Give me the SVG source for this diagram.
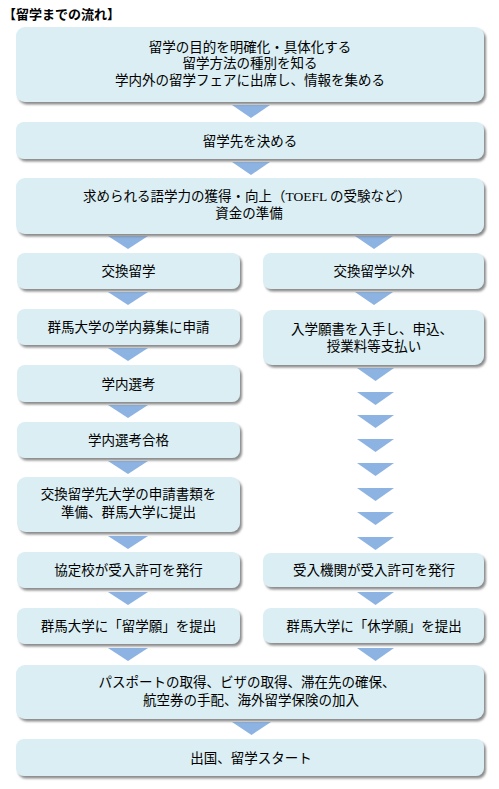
<svg xmlns="http://www.w3.org/2000/svg" width="499" height="789" viewBox="0 0 499 789">
<defs>
<filter id="sh" x="-5%" y="-20%" width="110%" height="150%">
<feDropShadow dx="2" dy="2.5" stdDeviation="1" flood-color="#7f7f7f" flood-opacity="0.9"/>
</filter>
<style>
.box{fill:#DAEEF3;filter:url(#sh);}
.t{font-family:"Noto Sans CJK JP","Noto Sans",sans-serif;font-size:13.5px;fill:#000;text-anchor:middle;}
.ser{font-family:"Liberation Serif",serif;}
.title{font-family:"Noto Sans CJK JP",sans-serif;font-size:13px;font-weight:bold;fill:#000;}
.arr{fill:#8DB3E2;}
</style>
</defs>
<rect width="499" height="789" fill="#fff"/>
<text class="title" x="3" y="19">【留学までの流れ】</text>

<g id="connectors">
<polygon class="arr" points="232,105 270,105 251,118"/>
<polygon class="arr" points="232,162 270,162 251,175"/>
<polygon class="arr" points="108,236 148,236 128,249"/>
<polygon class="arr" points="355,236 393,236 374,249"/>
<polygon class="arr" points="108,292 148,292 128,305"/>
<polygon class="arr" points="355,292 393,292 374,305"/>
<polygon class="arr" points="108,348 148,348 128,361"/>
<polygon class="arr" points="108,405 148,405 128,418"/>
<polygon class="arr" points="108,461 148,461 128,474"/>
<polygon class="arr" points="108,536 148,536 128,549"/>
<polygon class="arr" points="108,592 148,592 128,605"/>
<polygon class="arr" points="108,648 148,648 128,661"/>
<polygon class="arr" points="357,368 394,368 375.5,381"/>
<polygon class="arr" points="357,392 394,392 375.5,405"/>
<polygon class="arr" points="357,415 394,415 375.5,428"/>
<polygon class="arr" points="357,439 394,439 375.5,452"/>
<polygon class="arr" points="357,463 394,463 375.5,476"/>
<polygon class="arr" points="357,488 394,488 375.5,501"/>
<polygon class="arr" points="357,512 394,512 375.5,525"/>
<polygon class="arr" points="357,537 394,537 375.5,550"/>
<polygon class="arr" points="357,592 394,592 375.5,605"/>
<polygon class="arr" points="357,648 394,648 375.5,661"/>
<polygon class="arr" points="232,722 271,722 251.5,735"/>
</g>

<g id="n1"><rect class="box" x="16" y="27" width="468" height="75" rx="9"/>
<text class="t" x="250" y="52">留学の目的を明確化・具体化する</text>
<text class="t" x="250" y="68">留学方法の種別を知る</text>
<text class="t" x="250" y="85">学内外の留学フェアに出席し、情報を集める</text></g>

<g id="n2"><rect class="box" x="16" y="122" width="468" height="37" rx="8"/>
<text class="t" x="250" y="146">留学先を決める</text></g>

<g id="n3"><rect class="box" x="16" y="178" width="468" height="56" rx="9"/>
<text class="t" x="247" y="201">求められる語学力の獲得・向上（<tspan class="ser">TOEFL </tspan>の受験など）</text>
<text class="t" x="249" y="218">資金の準備</text></g>

<g id="n4"><rect class="box" x="17" y="253" width="223" height="36" rx="8"/>
<text class="t" x="128.5" y="276">交換留学</text></g>
<g id="n5"><rect class="box" x="263" y="253" width="221" height="36" rx="8"/>
<text class="t" x="374" y="276">交換留学以外</text></g>

<g id="n6"><rect class="box" x="17" y="309" width="223" height="36" rx="8"/>
<text class="t" x="128.5" y="332">群馬大学の学内募集に申請</text></g>
<g id="n7"><rect class="box" x="263" y="310" width="221" height="55" rx="9"/>
<text class="t" x="372" y="334">入学願書を入手し、申込、</text>
<text class="t" x="374" y="351">授業料等支払い</text></g>

<g id="n8"><rect class="box" x="17" y="365" width="223" height="37" rx="8"/>
<text class="t" x="128.5" y="389">学内選考</text></g>
<g id="n9"><rect class="box" x="17" y="422" width="223" height="36" rx="8"/>
<text class="t" x="128.5" y="445">学内選考合格</text></g>
<g id="n10"><rect class="box" x="17" y="477" width="223" height="55" rx="9"/>
<text class="t" x="128.5" y="499">交換留学先大学の申請書類を</text>
<text class="t" x="128.5" y="517">準備、群馬大学に提出</text></g>

<g id="n11"><rect class="box" x="17" y="552" width="223" height="36" rx="8"/>
<text class="t" x="128.5" y="575">協定校が受入許可を発行</text></g>
<g id="n12"><rect class="box" x="263" y="553" width="221" height="34" rx="8"/>
<text class="t" x="374" y="575">受入機関が受入許可を発行</text></g>

<g id="n13"><rect class="box" x="17" y="608" width="223" height="36" rx="8"/>
<text class="t" x="128.5" y="631">群馬大学に「留学願」を提出</text></g>
<g id="n14"><rect class="box" x="263" y="608" width="221" height="35" rx="8"/>
<text class="t" x="374" y="631">群馬大学に「休学願」を提出</text></g>

<g id="n15"><rect class="box" x="16" y="665" width="468" height="54" rx="9"/>
<text class="t" x="247" y="687">パスポートの取得、ビザの取得、滞在先の確保、</text>
<text class="t" x="251" y="705">航空券の手配、海外留学保険の加入</text></g>

<g id="n16"><rect class="box" x="16" y="739" width="468" height="37" rx="8"/>
<text class="t" x="251" y="763">出国、留学スタート</text></g>
</svg>
